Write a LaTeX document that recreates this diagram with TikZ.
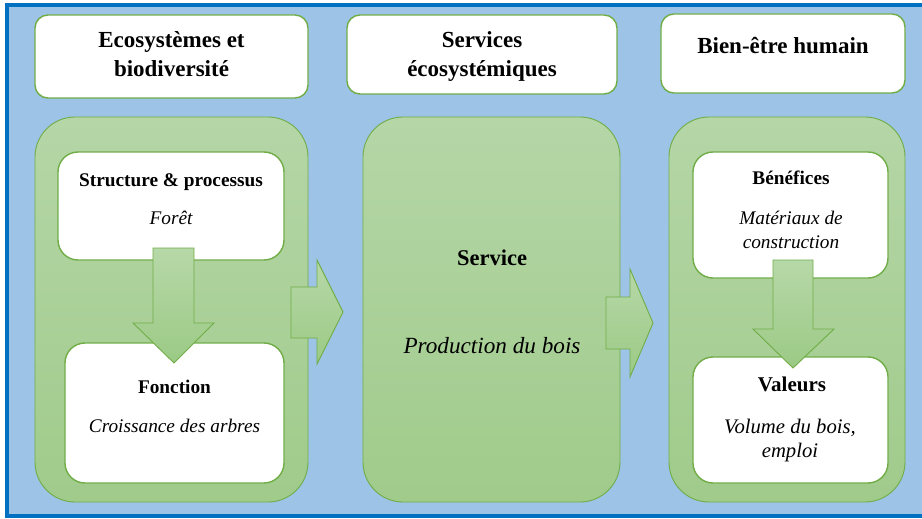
\documentclass[tikz,border=0pt]{standalone}
\usepackage{fontspec}
\setmainfont{Liberation Serif}
\definecolor{bgblue}{HTML}{9DC3E6}
\definecolor{frameblue}{HTML}{0070C0}
\definecolor{gborder}{HTML}{70AD47}
\definecolor{gtop}{HTML}{B5D6A7}
\definecolor{gbot}{HTML}{A0CB8B}
\definecolor{atop}{HTML}{B7D8A8}
\definecolor{abot}{HTML}{9BCA85}
\begin{document}
\begin{tikzpicture}[x=1pt,y=-1pt,
  framebox/.style={draw=frameblue, fill=bgblue, line width=4pt, inner sep=0pt, outer sep=0pt},
  whitebox/.style={draw=gborder, line width=1.4pt, fill=white, rounded corners=#1, inner sep=0pt, outer sep=0pt},
  panel/.style={draw=gborder, line width=0.9pt, top color=gtop, bottom color=gbot, rounded corners=40pt, inner sep=0pt, outer sep=0pt},
  blockarrow/.style={draw=gborder, line width=0.9pt, top color=atop, bottom color=abot, line join=miter},
  titletxt/.style={anchor=base, inner sep=0pt, font=\bfseries\fontsize{23}{27}\selectfont},
  headtxt/.style={anchor=base, inner sep=0pt, font=\bfseries\fontsize{19.3}{23}\selectfont},
  bodytxt/.style={anchor=base, inner sep=0pt, font=\itshape\fontsize{19.3}{23}\selectfont}]
\useasboundingbox (0,0) rectangle (922,519);
% outer frame
\node[framebox, minimum width=928pt, minimum height=510.5pt] (frame) at (471,260.25) {};
% top title boxes
\node[whitebox=13pt, minimum width=273pt, minimum height=83pt] (t1) at (171.5,56.5) {};
\node[whitebox=13pt, minimum width=270pt, minimum height=79pt] (t2) at (482,54.5) {};
\node[whitebox=13pt, minimum width=244pt, minimum height=79pt] (t3) at (783,53.5) {};
% green panels
\node[panel, minimum width=273pt, minimum height=385pt] (p1) at (171.5,309.5) {};
\node[panel, minimum width=257pt, minimum height=385pt] (p2) at (491.5,309.5) {};
\node[panel, minimum width=236pt, minimum height=385pt] (p3) at (787,309.5) {};
% inner white boxes
\node[whitebox=20pt, minimum width=226pt, minimum height=108pt] (w1) at (171,206) {};
\node[whitebox=20pt, minimum width=219pt, minimum height=140pt] (w2) at (174.5,413) {};
\node[whitebox=20pt, minimum width=195pt, minimum height=126pt] (w3) at (790.5,215) {};
\node[whitebox=20pt, minimum width=195pt, minimum height=126pt] (w4) at (790.5,420) {};
% block arrows
\path[blockarrow] (153,248) -- (194,248) -- (194,323) -- (214,323) -- (174,363) -- (133,323) -- (153,323) -- cycle;
\path[blockarrow] (773,260) -- (813,260) -- (813,329) -- (834,329) -- (793,368) -- (753,329) -- (773,329) -- cycle;
\path[blockarrow] (291,287) -- (317,287) -- (317,260) -- (343,312) -- (317,364) -- (317,338) -- (291,338) -- cycle;
\path[blockarrow] (606,297) -- (630,297) -- (630,269) -- (653,323) -- (630,377) -- (630,349) -- (606,349) -- cycle;
% texts
\node[titletxt] (tt1a) at (171.5,48) {Ecosystèmes et};
\node[titletxt] (tt1b) at (171.5,76.5) {biodiversité};
\node[titletxt] (tt2a) at (482,48) {Services};
\node[titletxt] (tt2b) at (482,76.5) {écosystémiques};
\node[titletxt] (tt3) at (783,54) {Bien-être humain};
\node[headtxt] (h1) at (171,186) {Structure \& processus};
\node[bodytxt] (b1) at (171,224) {Forêt};
\node[headtxt] (h2) at (174.5,393) {Fonction};
\node[bodytxt] (b2) at (174.5,432) {Croissance des arbres};
\node[anchor=base, inner sep=0pt, font=\bfseries\fontsize{22.5}{27}\selectfont] (h3) at (492,265) {Service};
\node[anchor=base, inner sep=0pt, font=\itshape\fontsize{23.2}{27}\selectfont] (b3) at (492,353) {Production du bois};
\node[headtxt] (h4) at (791,184) {Bénéfices};
\node[bodytxt] (b4a) at (791,224) {Matériaux de};
\node[bodytxt] (b4b) at (791,248) {construction};
\node[anchor=base, inner sep=0pt, font=\bfseries\fontsize{21}{25}\selectfont] (h5) at (792,391) {Valeurs};
\node[anchor=base, inner sep=0pt, font=\itshape\fontsize{20.7}{25}\selectfont] (b5a) at (790,433) {Volume du bois,};
\node[anchor=base, inner sep=0pt, font=\itshape\fontsize{20.7}{25}\selectfont] (b5b) at (790,457.5) {emploi};
\end{tikzpicture}
\end{document}
